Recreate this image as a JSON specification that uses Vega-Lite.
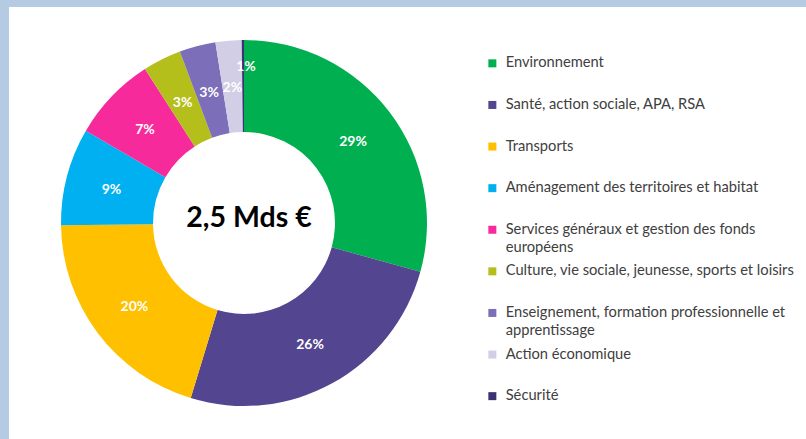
{
  "$schema": "https://vega.github.io/schema/vega-lite/v6.json",
  "background": "#b4cbe3",
  "padding": {"left": 9, "top": 7, "right": 0, "bottom": 0},
  "spacing": 0,
  "config": {"view": {"fill": "white", "stroke": null}},
  "datasets": {
    "budget": [
      {"rank": 1, "cat": "Environnement", "value": 29.3, "label": "29%"},
      {"rank": 2, "cat": "Santé, action sociale, APA, RSA", "value": 25.4, "label": "26%"},
      {"rank": 3, "cat": "Transports", "value": 20.1, "label": "20%"},
      {"rank": 4, "cat": "Aménagement des territoires et habitat", "value": 8.6, "label": "9%"},
      {"rank": 5, "cat": "Services généraux et gestion des fonds européens", "value": 7.5, "label": "7%"},
      {"rank": 6, "cat": "Culture, vie sociale, jeunesse, sports et loisirs", "value": 3.4, "label": "3%"},
      {"rank": 7, "cat": "Enseignement, formation professionnelle et apprentissage", "value": 3.2, "label": "3%"},
      {"rank": 8, "cat": "Action économique", "value": 2.3, "label": "2%"},
      {"rank": 9, "cat": "Sécurité", "value": 0.2, "label": "1%"}
    ]
  },
  "resolve": {"scale": {"color": "independent"}, "legend": {"color": "independent"}},
  "hconcat": [
    {
      "width": 470,
      "height": 432,
      "view": {"fill": "white", "stroke": null},
      "layer": [
        {
          "data": {"name": "budget"},
          "mark": {"type": "arc", "outerRadius": 183, "innerRadius": 91},
          "encoding": {
            "theta": {"field": "value", "type": "quantitative", "stack": true},
            "order": {"field": "rank", "type": "quantitative"},
            "color": {
              "field": "cat",
              "type": "nominal",
              "legend": null,
              "scale": {
                "domain": ["Environnement", "Santé, action sociale, APA, RSA", "Transports", "Aménagement des territoires et habitat", "Services généraux et gestion des fonds européens", "Culture, vie sociale, jeunesse, sports et loisirs", "Enseignement, formation professionnelle et apprentissage", "Action économique", "Sécurité"],
                "range": ["#00b050", "#53458f", "#ffc000", "#00b0f0", "#f72a9c", "#b5bf1c", "#7c6eb8", "#d2cee6", "#3b3272"]
              }
            }
          }
        },
        {
          "data": {"name": "budget"},
          "mark": {"type": "text", "font": "Lato", "fontWeight": "bold", "fontSize": 14, "color": "white", "align": "center", "baseline": "middle", "radius": 137, "dy": 2},
          "encoding": {
            "theta": {"field": "value", "type": "quantitative", "stack": true},
            "order": {"field": "rank", "type": "quantitative"},
            "text": {"condition": {"test": "datum.cat === 'Sécurité'", "value": ""}, "field": "label", "type": "nominal"}
          }
        },
        {
          "data": {"name": "budget"},
          "mark": {"type": "text", "font": "Lato", "fontWeight": "bold", "fontSize": 14, "color": "white", "align": "center", "baseline": "middle", "radius": 156, "dx": 3},
          "encoding": {
            "theta": {"field": "value", "type": "quantitative", "stack": true},
            "order": {"field": "rank", "type": "quantitative"},
            "text": {"condition": {"test": "datum.cat !== 'Sécurité'", "value": ""}, "field": "label", "type": "nominal"}
          }
        },
        {
          "data": {"values": [{"t": "2,5 Mds €"}]},
          "mark": {"type": "text", "font": "Lato", "fontWeight": "bold", "fontSize": 28.5, "color": "black", "align": "center", "baseline": "middle", "dy": -5, "dx": 5},
          "encoding": {"text": {"field": "t", "type": "nominal"}}
        }
      ]
    },
    {
      "width": 327,
      "height": 432,
      "view": {"fill": "white", "stroke": null},
      "data": {"name": "budget"},
      "mark": {"type": "square", "size": 0},
      "encoding": {
        "color": {
          "field": "cat",
          "type": "nominal",
          "scale": {
            "domain": ["Environnement", "Santé, action sociale, APA, RSA", "Transports", "Aménagement des territoires et habitat", "Services généraux et gestion des fonds européens", "Culture, vie sociale, jeunesse, sports et loisirs", "Enseignement, formation professionnelle et apprentissage", "Action économique", "Sécurité"],
            "range": ["#00b050", "#53458f", "#ffc000", "#00b0f0", "#f72a9c", "#b5bf1c", "#7c6eb8", "#d2cee6", "#3b3272"]
          },
          "legend": {
            "title": null,
            "orient": "none",
            "legendX": 6,
            "legendY": 49,
            "padding": 0,
            "symbolType": "square",
            "symbolSize": 64,
            "symbolStrokeWidth": 0,
            "symbolOpacity": 1,
            "labelFont": "Lato",
            "labelFontSize": 14.7,
            "labelColor": "#404040",
            "labelLimit": 320,
            "labelOffset": 6,
            "rowPadding": 7.6,
            "labelExpr": "datum.label == 'Services généraux et gestion des fonds européens' ? ['Services généraux et gestion des fonds', 'européens'] : datum.label == 'Enseignement, formation professionnelle et apprentissage' ? ['Enseignement, formation professionnelle et', 'apprentissage'] : [datum.label, '']",
            "encode": {"labels": {"update": {"lineHeight": {"value": 18}}}}
          }
        }
      }
    }
  ]
}
